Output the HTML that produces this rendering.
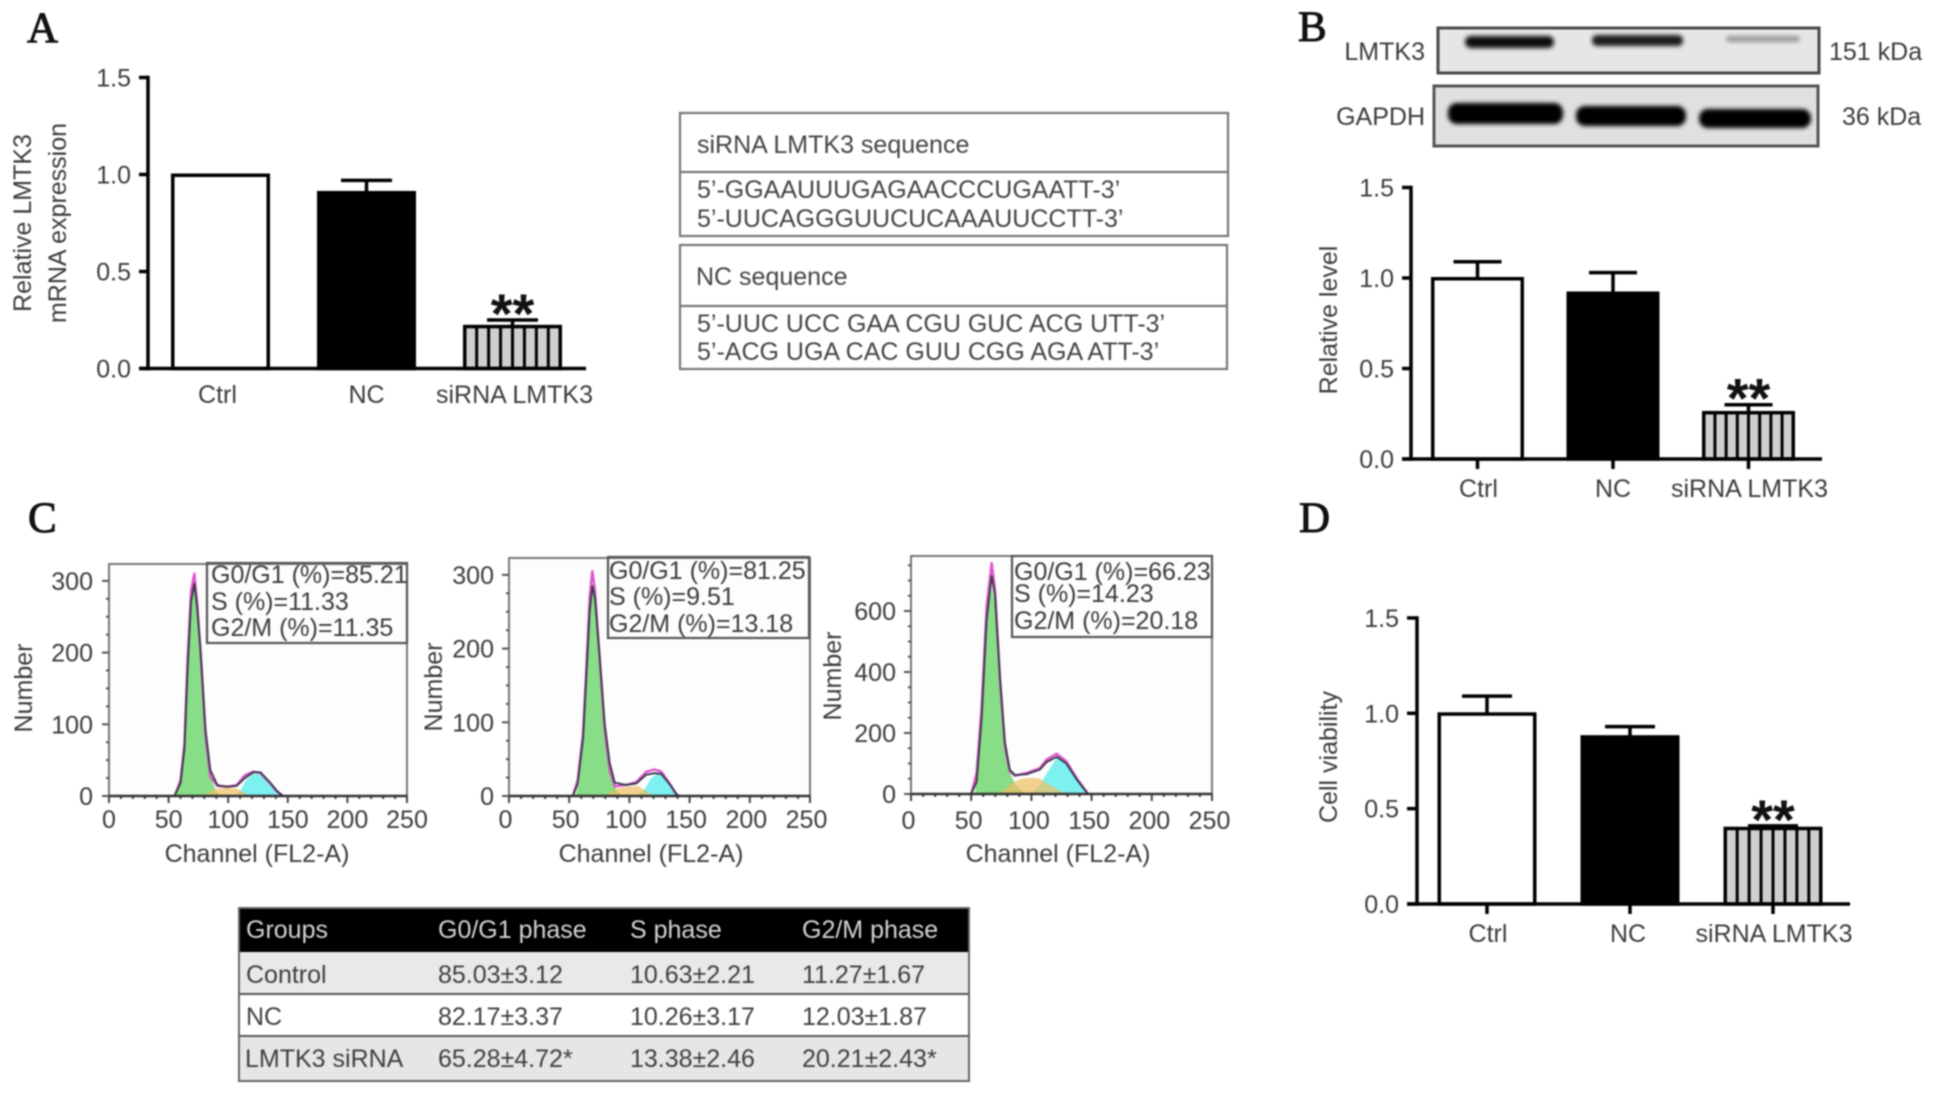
<!DOCTYPE html>
<html lang="en">
<head>
<meta charset="utf-8">
<title>LMTK3 knockdown figure</title>
<style>
html,body{margin:0;padding:0;background:#fff;width:1933px;height:1093px;overflow:hidden}
svg{display:block;filter:blur(0.85px)}
text{font-family:"Liberation Sans",sans-serif;font-size:25px;fill:#3c3c3c}
.letter{font-family:"Liberation Serif",serif;font-size:43px;fill:#111;stroke:#111;stroke-width:1}
.seq{fill:#444}
.hd{fill:#d4d4d4}
.cell{fill:#3f3f3f}
</style>
</head>
<body>
<svg id="figure" xmlns="http://www.w3.org/2000/svg" width="1933" height="1093" viewBox="0 0 1933 1093">
<defs><filter id="soft" x="-10%" y="-60%" width="120%" height="220%"><feGaussianBlur stdDeviation="2"/></filter></defs>
<rect width="1933" height="1093" fill="#fff"/>
<text class="letter" x="27" y="42">A</text>
<text class="letter" x="1298" y="41">B</text>
<text class="letter" x="28" y="532">C</text>
<text class="letter" x="1299" y="532">D</text>

<g id="panel-a">
<text x="0" y="0" transform="translate(31,223) rotate(-90)" text-anchor="middle">Relative LMTK3</text>
<text x="0" y="0" transform="translate(66,223) rotate(-90)" text-anchor="middle">mRNA expression</text>
</g>

<g>
<rect x="680" y="113" width="548" height="123" fill="#fff" stroke="#777" stroke-width="2.2"/>
<line x1="680" x2="1228" y1="172" y2="172" stroke="#777" stroke-width="2.2"/>
<text class="seq" x="697" y="153">siRNA LMTK3 sequence</text>
<text class="seq" x="697" y="198">5’-GGAAUUUGAGAACCCUGAATT-3’</text>
<text class="seq" x="697" y="227">5’-UUCAGGGUUCUCAAAUUCCTT-3’</text>
</g>
<g>
<rect x="680" y="245" width="547" height="124" fill="#fff" stroke="#777" stroke-width="2.2"/>
<line x1="680" x2="1227" y1="306" y2="306" stroke="#777" stroke-width="2.2"/>
<text class="seq" x="696" y="285">NC sequence</text>
<text class="seq" x="697" y="332">5’-UUC UCC GAA CGU GUC ACG UTT-3’</text>
<text class="seq" x="697" y="360">5’-ACG UGA CAC GUU CGG AGA ATT-3’</text>
</g>

<g>
<text x="1425" y="60" text-anchor="end">LMTK3</text>
<text x="1425" y="125" text-anchor="end">GAPDH</text>
<text x="1829" y="60">151 kDa</text>
<text x="1842" y="125">36 kDa</text>
<rect x="1438" y="28" width="381" height="45" fill="#e6e6e6" stroke="#4a4a4a" stroke-width="3"/>
<rect x="1465" y="36" width="89" height="12" rx="6" fill="#111" filter="url(#soft)"/>
<rect x="1592" y="35" width="91" height="11" rx="5" fill="#1a1a1a" filter="url(#soft)"/>
<rect x="1726" y="36" width="74" height="6" rx="3" fill="#999" filter="url(#soft)"/>
<rect x="1434" y="86" width="384" height="60" fill="#e0e0e0" stroke="#555" stroke-width="3"/>
<rect x="1448" y="103" width="115" height="21" rx="9" fill="#060606" filter="url(#soft)"/>
<rect x="1576" y="106" width="110" height="20" rx="9" fill="#060606" filter="url(#soft)"/>
<rect x="1699" y="109" width="112" height="19" rx="9" fill="#060606" filter="url(#soft)"/>
</g>

<g id="panel-b">
<text x="0" y="0" transform="translate(1337,320) rotate(-90)" text-anchor="middle">Relative level</text>
</g>
<g id="panel-d">
<text x="0" y="0" transform="translate(1337,757) rotate(-90)" text-anchor="middle">Cell viability</text>
</g>

<g id="flow-1"></g>
<g id="flow-2"></g>
<g id="flow-3"></g>

<g>
<rect x="239" y="908" width="730" height="44" fill="#000"/>
<rect x="239" y="952" width="730" height="42" fill="#e9e9e9"/>
<rect x="239" y="994" width="730" height="42" fill="#fff"/>
<rect x="239" y="1036" width="730" height="45" fill="#e6e6e6"/>
<line x1="239" x2="969" y1="994" y2="994" stroke="#555" stroke-width="2"/>
<line x1="239" x2="969" y1="1036" y2="1036" stroke="#555" stroke-width="2"/>
<rect x="239" y="908" width="730" height="173" fill="none" stroke="#666" stroke-width="2"/>
<text class="hd" x="246" y="938">Groups</text>
<text class="hd" x="438" y="938">G0/G1 phase</text>
<text class="hd" x="630" y="938">S phase</text>
<text class="hd" x="802" y="938">G2/M phase</text>
<text class="cell" x="246" y="983">Control</text>
<text class="cell" x="438" y="983">85.03±3.12</text>
<text class="cell" x="630" y="983">10.63±2.21</text>
<text class="cell" x="802" y="983">11.27±1.67</text>
<text class="cell" x="246" y="1025">NC</text>
<text class="cell" x="438" y="1025">82.17±3.37</text>
<text class="cell" x="630" y="1025">10.26±3.17</text>
<text class="cell" x="802" y="1025">12.03±1.87</text>
<text class="cell" x="245" y="1067">LMTK3 siRNA</text>
<text class="cell" x="438" y="1067">65.28±4.72*</text>
<text class="cell" x="630" y="1067">13.38±2.46</text>
<text class="cell" x="802" y="1067">20.21±2.43*</text>
</g>
</svg>

<script>
// ---- bar chart data ----
const barCategories = ['Ctrl', 'NC', 'siRNA LMTK3'];
const barTicks = [0, 0.5, 1.0, 1.5];
const panelAValues = [1.0, 0.91, 0.22];
const panelAErrors = [0, 0.06, 0.03];
const panelBValues = [1.0, 0.92, 0.26];
const panelBErrors = [0.09, 0.11, 0.04];
const panelDValues = [1.0, 0.88, 0.40];
const panelDErrors = [0.09, 0.05, 0.01];

// ---- flow cytometry data ----
const flowXTicks = [0, 50, 100, 150, 200, 250];
const flow1YTicks = [0, 100, 200, 300];
const flow1Channels = [55, 60, 63.3, 66, 68.9, 71.6, 74, 77, 81, 85, 91, 99, 107, 114, 121, 127, 135, 141, 146];
const flow1Fit = [0, 22, 73, 194, 287, 310, 269, 194, 83, 27, 14, 13, 15, 29, 34, 32, 18, 6, 0];
const flow1Hist = [0, 18, 66, 180, 272, 296, 262, 200, 92, 36, 15, 13, 14, 25, 33, 33, 19, 7, 0];
const flow1G1Channels = [56, 60, 63, 66, 69, 71, 74, 77, 81, 85, 90, 94];
const flow1G1Counts = [0, 18, 68, 185, 270, 293, 255, 190, 88, 28, 6, 0];
const flow1SChannels = [78, 85, 90, 100, 108, 118];
const flow1SCounts = [0, 6, 10, 12, 10, 0];
const flow1G2Channels = [105, 110, 115, 121, 127, 135, 141, 146];
const flow1G2Counts = [0, 7, 22, 31, 30, 16, 5, 0];

const flow2YTicks = [0, 100, 200, 300];
const flow2Channels = [53, 57, 61.5, 64, 67, 69.2, 71.4, 75, 79.5, 83.6, 87.8, 97.5, 105.8, 114, 121, 126.5, 133.4, 139, 141];
const flow2Fit = [0, 21, 85, 166, 270, 305, 279, 193, 89, 35, 13, 15, 19, 33, 36, 33, 17, 2, 0];
const flow2Hist = [0, 16, 78, 155, 250, 285, 268, 196, 98, 45, 18, 15, 17, 29, 31, 30, 16, 3, 0];
const flow2G1Channels = [55, 58, 61.5, 64, 67, 69, 71.4, 75, 79.5, 84, 90, 94];
const flow2G1Counts = [0, 15, 75, 150, 250, 280, 262, 186, 88, 32, 6, 0];
const flow2SChannels = [78, 85, 92, 100, 108, 120];
const flow2SCounts = [0, 6, 11, 13, 13, 0];
const flow2G2Channels = [106, 113, 118, 123, 128, 134, 141];
const flow2G2Counts = [0, 10, 24, 30, 28, 15, 0];

const flow3YTicks = [0, 200, 400, 600];
const flow3Channels = [50, 54.5, 58.7, 62.8, 67, 69.8, 74, 78, 82, 86.4, 96, 107, 112.7, 121, 129, 137.6, 147];
const flow3Fit = [0, 69, 287, 615, 757, 670, 364, 156, 74, 60, 69, 85, 113, 132, 107, 52, 0];
const flow3Hist = [0, 40, 250, 570, 715, 650, 380, 170, 80, 62, 65, 80, 105, 122, 100, 48, 0];
const flow3G1Channels = [53, 58.7, 62.8, 67, 69.8, 74, 78, 82, 87, 95];
const flow3G1Counts = [0, 250, 560, 680, 625, 345, 150, 70, 30, 0];
const flow3SChannels = [72, 80, 85, 92, 100, 107, 115, 128];
const flow3SCounts = [0, 22, 38, 50, 53, 50, 30, 0];
const flow3G2Channels = [100, 107, 114, 121, 129, 137, 147];
const flow3G2Counts = [0, 30, 75, 118, 100, 52, 0];

const NS = 'http://www.w3.org/2000/svg';
function make(tag, parent, attrs) {
  const e = document.createElementNS(NS, tag);
  for (const k in attrs) e.setAttribute(k, attrs[k]);
  parent.appendChild(e);
  return e;
}

function drawBarChart(id, cfg) {
  const g = document.getElementById(id);
  const y = v => cfg.y0 - v * cfg.unit;
  const x = i => cfg.barLeft + i * cfg.barStep;
  cfg.ticks.forEach(t => {
    const tick = make('line', g, {x1: cfg.tickLeft, x2: cfg.axisX, y1: y(t), y2: y(t), stroke: '#000', 'stroke-width': 3.5});
    
    
    const label = make('text', g, {x: cfg.labelRight, y: y(t) + 9, 'text-anchor': 'end'});
    
    
    label.textContent = t.toFixed(1);
  });
  cfg.categories.forEach((name, i) => {
    const left = x(i), cx = left + cfg.barWidth / 2;
    const val = cfg.values[i], err = cfg.errors[i];
    if (err > 0) {
      const stem = make('line', g, {x1: cx, x2: cx, y1: y(val), y2: y(val + err), stroke: '#000', 'stroke-width': 3.5});
      
      
      const cap = make('line', g, {x1: cx - cfg.cap / 2, x2: cx + cfg.cap / 2, y1: y(val + err), y2: y(val + err), stroke: '#000', 'stroke-width': 3.5});
      
      
    }
    const bar = make('rect', g, {x: left + 1.75, y: y(val) + 0.75, width: cfg.barWidth - 3.5, height: y(0) - y(val) - 0.75, fill: ['#fff', '#000', '#cfcfcf'][i], stroke: '#000', 'stroke-width': 3.5});
    
    
    if (i === 2) {
      for (let s = 1; s < 8; s++) {
        const px = left + 1.75 + (cfg.barWidth - 3.5) * s / 8;
        const stripe = make('line', g, {x1: px, x2: px, y1: y(val), y2: y(0), stroke: '#000', 'stroke-width': 3});
        
        
      }
      const stars = make('text', g, {x: cx, y: y(val + err) + 13, 'text-anchor': 'middle', style: 'font-size:56px;font-weight:bold;fill:#111'});
      
      
      stars.textContent = '**';
    }
    if (cfg.xTicks) {
      const xt = make('line', g, {x1: cx, x2: cx, y1: y(0), y2: y(0) + 10, stroke: '#000', 'stroke-width': 3.5});
      
      
    }
    const lab = make('text', g, {x: cx + cfg.labelShift[i], y: cfg.labelY, 'text-anchor': 'middle'});
    
    
    lab.textContent = name;
  });
  const yAxis = make('line', g, {x1: cfg.axisX, x2: cfg.axisX, y1: y(cfg.ticks[cfg.ticks.length - 1]) - 1.75, y2: y(0) + 1.75, stroke: '#000', 'stroke-width': 3.5});
  
  
  const xAxis = make('line', g, {x1: cfg.tickLeft, x2: cfg.axisEnd, y1: y(0), y2: y(0), stroke: '#000', 'stroke-width': 3.5});
  
  
}

drawBarChart('panel-a', {categories: barCategories, values: panelAValues, errors: panelAErrors, ticks: barTicks,
  y0: 368.5, unit: 194, axisX: 148, tickLeft: 139, axisEnd: 586, labelRight: 131, labelY: 403,
  barLeft: 171, barStep: 146, barWidth: 99, cap: 51, xTicks: false, labelShift: [-3, 0, 2]});
drawBarChart('panel-b', {categories: barCategories, values: panelBValues, errors: panelBErrors, ticks: barTicks,
  y0: 459, unit: 181, axisX: 1411, tickLeft: 1402, axisEnd: 1822, labelRight: 1394, labelY: 497,
  barLeft: 1431, barStep: 135.5, barWidth: 93, cap: 48, xTicks: true, labelShift: [1, 0, 1]});
drawBarChart('panel-d', {categories: barCategories, values: panelDValues, errors: panelDErrors, ticks: barTicks,
  y0: 904, unit: 190.7, axisX: 1417, tickLeft: 1407, axisEnd: 1850, labelRight: 1399, labelY: 942,
  barLeft: 1437.5, barStep: 143, barWidth: 99, cap: 50, xTicks: true, labelShift: [1, -2, 1]});

function drawFlow(id, cfg) {
  const g = document.getElementById(id);
  const x = c => cfg.x0 + c * cfg.xUnit;
  const y = v => cfg.y0 - v * cfg.yUnit;
  const frame = make('rect', g, {x: cfg.x0, y: cfg.top, width: x(250) - cfg.x0, height: cfg.y0 - cfg.top, fill: '#fdfdfd', stroke: '#777', 'stroke-width': 2});
  
  
  function area(chs, counts, fill, name) {
    const pts = chs.map((c, i) => x(c) + ',' + y(counts[i])).join(' ');
    const p = make('polygon', g, {points: pts, fill: fill});
    
    
  }
  function curve(chs, counts, stroke, w, name) {
    const pts = chs.map((c, i) => x(c) + ',' + y(counts[i])).join(' ');
    const p = make('polyline', g, {points: pts, fill: 'none', stroke: stroke, 'stroke-width': w, 'stroke-linejoin': 'round'});
    
    
  }
  area(cfg.g2Ch, cfg.g2, 'rgb(125,240,240)', 'g2m-phase-area');
  area(cfg.g1Ch, cfg.g1, 'rgb(135,222,135)', 'g1-phase-area');
  area(cfg.sCh, cfg.s, 'rgba(240,190,100,0.72)', 's-phase-area');
  curve(cfg.ch, cfg.fit, '#dd55cc', 2.4, 'fit-curve');
  curve(cfg.ch, cfg.hist, '#3a3a4a', 1.9, 'histogram-line');
  for (let c = 0; c <= 250; c += 10) {
    const major = c % 50 === 0;
    const t = make('line', g, {x1: x(c), x2: x(c), y1: cfg.y0, y2: cfg.y0 + (major ? 7 : 3), stroke: '#444', 'stroke-width': 2});
    
    
  }
  const minorStep = (cfg.yTicks[1] - cfg.yTicks[0]) / 4;
  for (let v = 0; y(v) >= cfg.top; v += minorStep) {
    const major = v % (minorStep * 4) === 0;
    const t = make('line', g, {x1: cfg.x0 - (major ? 7 : 3), x2: cfg.x0, y1: y(v), y2: y(v), stroke: '#555', 'stroke-width': 2});
    
    
  }
  const base = make('line', g, {x1: cfg.x0, x2: x(250), y1: cfg.y0, y2: cfg.y0, stroke: '#333', 'stroke-width': 2.5});
  
  
  flowXTicks.forEach(c => {
    const l = make('text', g, {x: x(c) + cfg.xLabelShift, y: cfg.xLabelY, 'text-anchor': 'middle'});
    
    
    l.textContent = c;
  });
  cfg.yTicks.forEach(v => {
    const l = make('text', g, {x: cfg.yLabelRight, y: y(v) + 9, 'text-anchor': 'end'});
    
    
    l.textContent = v;
  });
  const xt = make('text', g, {x: cfg.xTitleX, y: 862, 'text-anchor': 'middle'});
  
  
  xt.textContent = 'Channel (FL2-A)';
  const yt = make('text', g, {transform: 'translate(' + cfg.yTitleX + ',' + cfg.yTitleY + ') rotate(-90)', 'text-anchor': 'middle'});
  
  
  yt.textContent = 'Number';
  const box = make('rect', g, {x: cfg.boxX, y: cfg.boxY, width: cfg.boxW, height: cfg.boxH, fill: 'none', stroke: '#555', 'stroke-width': 2.2});
  
  
  cfg.stats.forEach((s, i) => {
    const t = make('text', g, {x: cfg.boxX + cfg.statInset, y: cfg.statY[i] + 9});
    
    
    t.textContent = s;
  });
}

drawFlow('flow-1', {x0: 109, xUnit: 1.192, y0: 796, yUnit: 0.717, top: 564, yTicks: flow1YTicks,
  ch: flow1Channels, fit: flow1Fit, hist: flow1Hist, g1Ch: flow1G1Channels, g1: flow1G1Counts,
  sCh: flow1SChannels, s: flow1SCounts, g2Ch: flow1G2Channels, g2: flow1G2Counts,
  xLabelY: 828, xLabelShift: 0, yLabelRight: 93, xTitleX: 257, yTitleX: 32, yTitleY: 688,
  boxX: 207, boxY: 563, boxW: 200, boxH: 80, statInset: 4, statY: [574, 601, 627],
  stats: ['G0/G1 (%)=85.21', 'S (%)=11.33', 'G2/M (%)=11.35']});
drawFlow('flow-2', {x0: 509, xUnit: 1.204, y0: 796, yUnit: 0.737, top: 558, yTicks: flow2YTicks,
  ch: flow2Channels, fit: flow2Fit, hist: flow2Hist, g1Ch: flow2G1Channels, g1: flow2G1Counts,
  sCh: flow2SChannels, s: flow2SCounts, g2Ch: flow2G2Channels, g2: flow2G2Counts,
  xLabelY: 828, xLabelShift: -3.5, yLabelRight: 494, xTitleX: 651, yTitleX: 442, yTitleY: 687,
  boxX: 608, boxY: 557, boxW: 201, boxH: 81, statInset: 1, statY: [570, 596, 623],
  stats: ['G0/G1 (%)=81.25', 'S (%)=9.51', 'G2/M (%)=13.18']});
drawFlow('flow-3', {x0: 911, xUnit: 1.204, y0: 794, yUnit: 0.305, top: 556, yTicks: flow3YTicks,
  ch: flow3Channels, fit: flow3Fit, hist: flow3Hist, g1Ch: flow3G1Channels, g1: flow3G1Counts,
  sCh: flow3SChannels, s: flow3SCounts, g2Ch: flow3G2Channels, g2: flow3G2Counts,
  xLabelY: 829, xLabelShift: -2.5, yLabelRight: 896, xTitleX: 1058, yTitleX: 841, yTitleY: 676,
  boxX: 1012, boxY: 556, boxW: 200, boxH: 81, statInset: 2, statY: [571, 593, 620],
  stats: ['G0/G1 (%)=66.23', 'S (%)=14.23', 'G2/M (%)=20.18']});
</script>
</body>
</html>
